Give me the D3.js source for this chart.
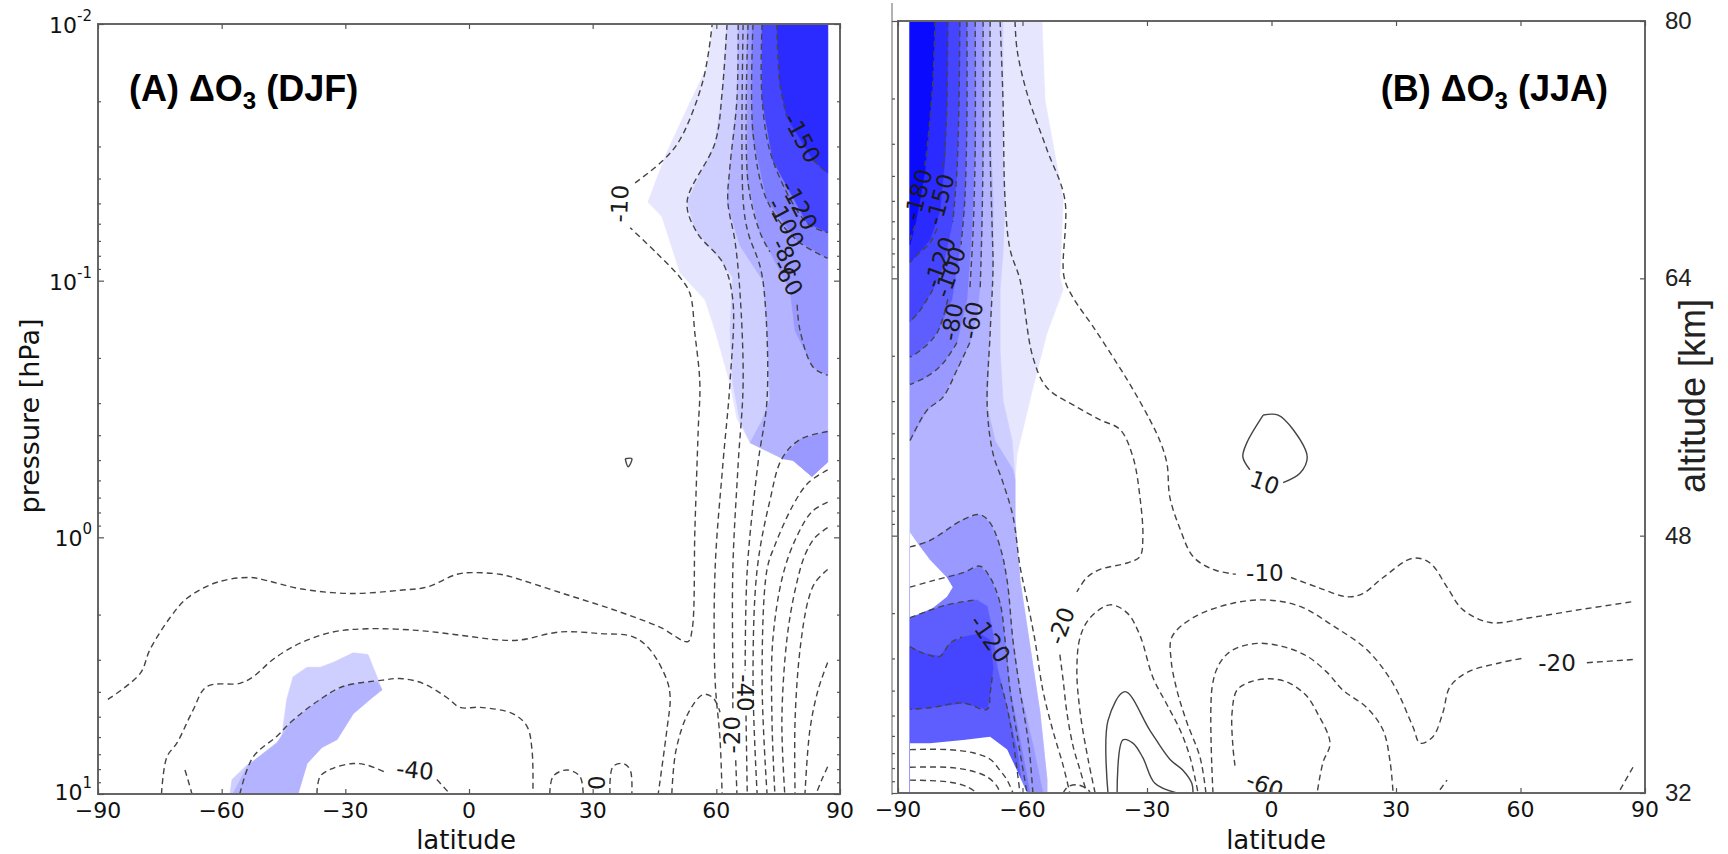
<!DOCTYPE html>
<html>
<head>
<meta charset="utf-8">
<script src="https://cdn.jsdelivr.net/npm/d3@7/dist/d3.min.js"></script>
<style>
  body { margin: 0; background: #fff; }
  svg { display: block; }
</style>
</head>
<body>
<svg id="fig" width="1728" height="854"></svg>
<script>
(function() {
	'use strict';

	// axes
	const latTicks = [-90, -60, -30, 0, 30, 60, 90];
	const pressTicks = [0.01, 0.1, 1, 10];
	const pressExp = ['-2', '-1', '0', '1'];
	const altTicks = [80, 64, 48, 32];

	// shading, light to dark
	const blues = ['#e6e6ff', '#cfcfff', '#b3b3ff', '#9999ff', '#7d7dff', '#5e5eff', '#4545ff', '#2b2bff', '#0a0aff'];

	// ---- (A) DJF : [latitude, altitude km] ----
	const fillsA = [
		[0, [[59.2,80],[57.7,77.3],[53.6,75.1],[48,72],[43.4,68.9],[46.8,68],[51.2,64.5],[57.3,62.8],[59.7,60.9],[63.3,57.6],[65,55.4],[68.2,53.9],[75.4,53],[78.6,52.8],[83.2,51.8],[87,52.7],[87,80]]],
		[1, [[62.6,80],[61.4,75.7],[59.7,72.6],[52.9,68.9],[54.8,67.2],[61.6,65.1],[64,64.2],[63.3,60.9],[64,57.6],[65.7,55.3],[68.2,53.9],[75.4,53],[78.6,52.8],[83.2,51.8],[87,52.7],[87,80]]],
		[2, [[65.3,80],[65,75.3],[63.3,71.1],[62.6,68.9],[65.7,66.2],[71.3,64],[72.3,60.9],[73,56.6],[71.1,55.3],[68.2,53.9],[75.4,53],[78.6,52.8],[83.2,51.8],[87,52.7],[87,80]]],
		[3, [[67.5,80],[67.5,70.3],[70.6,67],[77.9,63.4],[79.1,60.9],[83.5,58.6],[87,58.1],[87,80]]],
		[3, [[75.9,52.9],[80.3,54.1],[87,54.6],[87,52.7],[83.2,51.8],[78.6,52.8]]],
		[4, [[68.7,80],[68.7,73.2],[72.3,69],[79.6,66.5],[87,65.4],[87,80]]],
		[6, [[71.1,80],[71.1,75.3],[73.7,71.5],[82,67.6],[87,67],[87,80]]],
		[7, [[74.7,80],[75.4,76.3],[77.1,74.2],[83.5,71.5],[87,70.7],[87,80]]],
		[1, [[-58,32],[-57.5,32.9],[-53.9,33.8],[-49,34.3],[-45.8,34.7],[-45.1,36.2],[-44.2,37.9],[-42.7,39.3],[-39.3,39.9],[-36.1,39.9],[-33,40.2],[-28.1,40.8],[-24.5,40.7],[-22.3,39.3],[-21.1,38.5],[-24,37.9],[-28.1,37],[-32,35.4],[-35.7,34.9],[-39.3,33.9],[-41.5,32]]],
		[2, [[-57.3,32],[-53.6,33.8],[-46.6,35.2],[-43.4,36.4],[-36.1,37.9],[-29.6,38.8],[-22.3,39],[-21.1,38.5],[-24,37.9],[-28.1,37],[-32,35.4],[-35.7,34.9],[-39.3,33.9],[-41.5,32]]]
	];

	const dashedA = [
		[[-87.6,37.9],[-79.8,39.5],[-77.4,41],[-72.5,43],[-68.4,44.2],[-61.1,45.2],[-53.1,45.5],[-49,45.3],[-41,44.8],[-28.9,44.5],[-16.7,44.7],[-10.2,44.9],[-2.9,45.7],[1,45.8],[7.5,45.7],[10.7,45.5],[22.8,44.5],[34.9,43.5],[46.3,42.4],[53.1,41.5],[54.1,42.2],[54.8,48.5],[55.6,54.7],[56,57.6],[54.8,60.7],[53.6,63.2],[51.2,64.2],[45.6,65.7],[39.1,67.3],null,[40.3,70.1],[47.1,71.5],[51.2,72.8],[56.8,76.5],[59,80]],
		[[-74.6,32],[-73.3,34.3],[-70.8,35.2],[-67,37.2],[-63.6,38.7],[-55.6,38.9],[-52.4,39.3],[-47.5,40.4],[-41,41.4],[-33,42.1],[-24.7,42.3],[-12.6,42.2],[-2.2,41.9],[7.5,41.6],[12.4,41.6],[22.1,42.1],[31.8,42],[39.8,41.8],[43.9,41],[48,39.1],[48.8,38],[48,36],[45.9,32]],
		[[-55.6,32],[-52.4,34.3],[-46.6,35.6],[-42.7,36.6],[-36.1,37.9],[-30.6,38.7],[-20.9,39.1],[-16.7,39.2],[-11.2,38.9],[-5.3,38],[-2.2,37.4],[2.7,37.4],[10.7,37],[14.1,36.2],[15.3,34.7],[15.5,32]],
		[[-36.9,32],[-36.1,33.1],[-33,33.6],[-28.1,33.9],[-24.7,33.8],[-19.9,33.3],null,[-7.8,32.9],[-4.6,32]],
		[[-68.9,33.5],[-68.2,32.9],[-67.2,32]],
		[[19.6,32],[20.4,33.1],[23.8,33.5],[26.9,33.1],[27.7,32]],
		[[34.2,32],[34.9,33.7],[37.4,33.9],[39.1,33.5],[39.5,32]],
		[[49.2,32],[50.2,34.7],[53.1,37],[56.8,38.2],[59.2,38],[60.9,37.1]],
		[[62.6,80],[61.4,75.7],[59.7,72.6],[52.9,68.9],[55.3,67],[61.6,65.1],[64,62.8],[63.3,57.6],[61.6,52.6],[59.7,46],[59.7,39.1],[60.9,35.4],[61.4,32]],
		[[65.3,80],[65,75.3],[63.3,71.1],[62.8,68.9],[64.5,66.5],[65.7,63.4],[66.5,57.6],[65.3,52.6],[64,46],[64,39.1],[64,37.2],null,[64.7,34.1],[65,32]],
		[[66.5,80],[66.5,69],[67.7,67],[70.6,64.9],[71.8,62.8],[72.3,56.6],[70.1,52.6],[67.5,46],[67,39.7],null,[67.2,36.9],[67.5,32]],
		[[67.7,80],[67.7,70.1],[70.6,67],[73,65.8],null,[79.6,62.5],[80.3,60.9],[83.5,58.6],[87,58.1]],
		[[68.9,80],[68.9,73.2],[72.3,69],[79.6,66.5],[87,65.4]],
		[[71.1,80],[71.1,75.3],[73.7,71.5],[82,67.6],[87,67]],
		[[74.7,80],[75.4,76.3],[77.1,74.2],null,[83.5,71.5],[87,70.7]],
		[[87,54.6],[80.3,54.1],[75.9,52.9],[73,50.3],[69.9,46],[68.9,39.1],[69.9,32]],
		[[87,52.2],[82.3,51.4],[78.6,50],[74.2,47.5],[72.3,46],[71.1,39.1],[72.3,32]],
		[[87,50.2],[83.2,49.6],[79.6,48.1],[76.2,45.7],[73.7,41.6],[73.5,36.6],[74.2,32]],
		[[87,48.6],[84,48],[81.5,46.9],[79.1,44.7],[77.1,41.6],[75.9,36.6],[76.6,32]],
		[[87,46],[84,45.2],[82.3,44.1],[80.3,41],[79.1,36.6],[79.1,32]],
		[[87,40.2],[84.7,38.5],[82.7,36],[81.5,32]],
		[[87,33.7],[85.6,32.9],[84.2,32]]
	];

	const solidA = [
		[[37.9,52.9],[39.5,52.9],[38.6,52.4],[37.9,52.9]]
	];

	const labelsA = [
		['-10', 36.5, 68.8, -88],
		['-150', 80.8, 72.9, 62],
		['-120', 80.1, 68.7, 62],
		['-100', 76.9, 67.6, 62],
		['-80', 77.1, 65.5, 62],
		['-60', 77.4, 64.2, 62],
		['-40', 67.0, 38.3, 90],
		['-20', 63.7, 35.7, -90],
		['-40', -13.1, 33.5, 6],
		['0', 31.1, 32.7, -90]
	];

	// ---- (B) JJA ----
	const fillsB = [
		[0, [[-55.3,80],[-54.6,75.1],[-50.2,68.9],[-51,64.1],[-50.2,63.3],[-54.1,60.6],[-57.5,57.2],[-61.3,53.1],[-61.8,51.5],[-61.8,49],[-60.6,45.2],[-58.2,41.1],[-55.8,37],[-54.1,32.8],[-54.1,32],[-87.1,32],[-87.1,80]]],
		[1, [[-64.7,80],[-64.7,72],[-64.2,68.9],[-64.7,65.6],[-65.4,63.3],[-65.4,59.5],[-64.7,56.4],[-62.5,53.9],[-61.8,51.5],[-61.8,49],[-60.6,45.2],[-58.2,41.1],[-55.8,37],[-54.1,32.8],[-54.1,32],[-87.1,32],[-87.1,80]]],
		[2, [[-67.8,80],[-67.8,73.8],[-67.1,68.9],[-67.1,64.7],[-67.8,60.6],[-68.5,56],[-66.6,53.9],[-62.3,52.1],[-61.8,51.5],[-61.8,49],[-60.6,45.2],[-58.2,41.1],[-55.8,37],[-54.1,32.8],[-54.1,32],[-87.1,32],[-87.1,80]]],
		[3, [[-69.5,80],[-69.5,72],[-69.8,67],[-70.2,63.7],[-71,61.6],[-72.7,60],[-75.8,58.3],[-79.2,56.6],[-83,55.8],[-87.1,53.9],[-87.1,80]]],
		[3, [[-87.1,47.3],[-82.3,47.7],[-74.3,49],[-70.2,49.3],[-67.8,48.8],[-65.4,47.3],[-63.7,45.2],[-62.3,41.5],[-60.6,38.4],[-57.5,35],[-55.1,32],[-87.1,32]]],
		[4, [[-71.4,80],[-71.4,72],[-72.2,67],[-73.4,62.7],[-75.8,60],[-79.2,58.7],[-83,57.9],[-87.1,57.4],[-87.1,80]]],
		[4, [[-87.1,44.8],[-81.6,45.2],[-74.3,45.7],[-70.2,46.1],[-67.8,45.4],[-65.4,43.8],[-64.2,41.5],[-63,38.4],[-60.6,35.3],[-58.2,32],[-87.1,32]]],
		[5, [[-73.4,80],[-73.4,73.8],[-73.9,68.9],[-75.1,65.8],[-77,62.7],[-80.6,60.6],[-84.7,59.5],[-87.1,59.1],[-87.1,80]]],
		[5, [[-87.1,42.9],[-78.2,43.7],[-71,44],[-68.5,43.6],[-67.1,41.9],[-66.1,39.8],[-63.7,37.3],[-61.3,34.7],[-59.9,32],[-87.1,32]]],
		[6, [[-75.1,80],[-75.3,75.1],[-75.8,70.7],[-76.8,67.6],[-79.2,64.7],[-81.6,63.3],[-84.7,62],[-87.1,61.3],[-87.1,80]]],
		[6, [[-87.1,41.1],[-84,40.7],[-79.9,40.5],[-77.5,41.3],[-74.3,41.7],[-70.2,41.9],[-67.8,41.5],[-67.1,39.8],[-67.8,38.2],[-68.5,37.2],[-74.3,37.6],[-82.3,37.3],[-87.1,37.2]]],
		[7, [[-78,80],[-78.2,75.1],[-78.7,71.4],[-79.9,68.2],[-82.3,66.4],[-85.2,65.5],[-87.1,65],[-87.1,80]]],
		[8, [[-81.1,80],[-81.6,76.3],[-82.8,72.6],[-83.5,70.7],[-84.7,68.9],[-85.9,67.3],[-87.1,66.1],[-87.1,80]]]
	];

	const blanksB = [
		[[-87.1,35.1],[-82.3,35.1],[-74.3,35.3],[-67.8,35.5],[-63.7,34.7],[-61.3,33.4],[-58.9,32],[-87.1,32]],
		[[-87.1,48.2],[-85.2,47.5],[-82.3,46.5],[-78.2,45.4],[-76.8,44.8],[-78.2,44.2],[-81.6,43.5],[-87.1,42.9]]
	];

	const dashedB = [
		[[-81.1,80],[-81.6,76.3],[-82.8,72.6],[-83.5,71],null,[-85.9,67.3],[-87.1,66.4]],
		[[-78,80],[-78.2,75.1],[-78.7,72],[-79.2,70.7],null,[-80.6,67.1],[-82.3,66.2],[-85.2,65.5],[-87.1,65]],
		[[-75.1,80],[-75.3,75.1],[-75.8,70.7],[-76.8,67.5],null,[-81.6,63.3],[-84.7,62],[-87.1,61.3]],
		[[-73.4,80],[-73.4,73.8],[-73.9,68.9],[-74.8,66.1],null,[-78,62.7],[-80.6,60.6],[-84.7,59.5],[-87.1,59.1]],
		[[-71.4,80],[-71.4,72],[-71.9,67],[-72.7,63.3],null,[-75.8,60],[-79.2,58.7],[-83,57.9],[-87.1,57.4]],
		[[-69.5,80],[-69.5,72],[-69.8,67],[-70.2,63.3],null,[-72.7,60],[-75.8,58.3],[-79.2,56.6],[-83,55.8],[-87.1,53.9]],
		[[-67.8,80],[-67.8,72],[-67.3,67],[-67.1,64.7],[-67.8,60.6],[-68.5,56],[-67.1,53.1],[-64.7,51.3],[-62.3,49.2],[-60.6,46.1],[-58.9,44],[-57,41.5],[-55.1,38.4],[-52.7,35.9],[-50.2,33.7],[-48.6,32]],
		[[-65.4,80],[-64.7,75.1],[-64.2,68.9],[-63,65.8],[-60.6,63.9],[-57.5,59.1],[-54.1,57.2],[-46.9,56],[-41.3,55.2],[-36.5,54.6],[-33.4,52.9],[-31.7,50.4],[-31,47.9],[-31.7,46.7],[-34.8,46.3],[-41.3,45.9],[-44.5,45.4],[-46.9,44.5],null,[-51,40.6],[-50.2,39],[-49.3,37],[-47.8,34.9],[-46.1,33.4],[-44.5,32]],
		[[-61.8,80],[-61.3,78.2],[-58.9,75.5],[-54.1,72],[-49.8,68.9],[-50,64.1],[-47.8,62.8],[-43,61],[-37.2,58.7],[-33.4,57.1],[-29.3,55.2],[-26.9,53.9],[-25.2,52.5],[-24.5,50.4],[-22,48.4],[-18.9,46.7],[-14.1,45.9],[-8.6,45.6],null,[4.7,45.4],[11,44.8],[18.2,44.2],[22,44.4],[26.9,45.4],[34.1,46.6],[38.2,46.3],[42.3,44.8],[46.1,43.4],[52.7,42.6],[62.3,42.9],[74.3,43.4],[87.1,43.9]],
		[[-15.8,32],[-17.2,34.2],[-20.4,36.4],[-22.8,38.4],[-24.2,40.3],[-24,41.7],[-18.9,42.9],[-9.3,43.8],[-1.1,44],[6.9,43.6],[14.8,42.4],[23,40.9],[29.3,38.8],[34.1,36.1],[35.8,35.1],[38.9,35.5],[41.3,37],[43,38.6],[47.1,39.5],[55.1,40.1],[61,40.4],null,[76,40.1],[87.1,40.3]],
		[[-42.5,32],[-44.2,34.1],[-46.1,37],[-46.9,39.6],[-46.1,41.7],[-43.7,42.9],[-38.9,43.7],[-34.8,43.2],[-31.7,41.8],[-28.6,39.2],[-25.2,37.5],[-22,35.9],[-19.6,34.2],[-17.7,32]],
		[[-14.1,32],[-14.3,38.6],[-12.4,40.1],[-9.3,40.9],[-3.5,41.3],[2.8,41.1],[8.6,40.5],[13.4,39.5],[17.2,38.4],[23,37.3],[26.9,35.9],[28.6,33.9],[29.3,32]],
		[[-8.8,33.7],[-9.3,34.9],[-9.5,37],[-8.3,38.4],[-5.2,38.9],[-0.4,39.1],[3.7,38.9],[6.9,38.4],[8.6,38],[11,37],[14.1,35.1],[12.4,33.9],[11,32]],
		[[-87.1,47.3],[-82.3,47.7],[-74.3,49],[-70.2,49.3],[-67.8,48.8],[-65.4,47.3],[-63.7,45.2],[-62.3,41.5],[-60.6,38.4],[-58.5,35],[-57.5,32]],
		[[-87.1,44.8],[-81.6,45.2],[-74.3,45.7],[-70.2,46.1],[-67.8,45.4],[-65.4,43.8],[-64.2,41.5],[-63,38.4],[-61.1,35.3],[-58.9,32]],
		[[-87.1,42.9],[-78.2,43.7],[-71.5,44],null,[-65.2,38.8],[-63.7,37.3],[-62.3,35.3],[-60.6,32]],
		[[-87.1,41.1],[-84,40.7],[-79.9,40.5],[-77.5,41.3],[-74.6,41.7],null,[-67.3,39.2],[-67.8,38.2],[-68.5,37.2],[-74.3,37.6],[-82.3,37.3],[-87.1,37.2]],
		[[-87.1,34.7],[-78.2,34.7],[-71.9,34.5],[-67.8,34.1],[-65.4,33.4],[-63.7,32.8],[-62.3,32]],
		[[-87.1,33.6],[-78.2,33.6],[-72.7,33.4],[-68.5,33],[-66.1,32.4],[-65.4,32]],
		[[-87.1,32.8],[-78.2,32.7],[-73.4,32.4],[-71,32]],
		[[-50.2,32],[-49,32.4],[-46.6,32.5],[-44.2,32.2],[-43.7,32]],
		[[40.6,32.2],[42.3,32.8]],
		[[84,32.2],[87.1,33.6]]
	];

	const solidB = [
		[[-39.4,32],[-39.4,36.5],[-35.3,38.3],[-29.3,35.9],[-24.5,34.1],[-21.3,33.4],[-19.2,32.6],[-18.9,32]],
		[[-37.2,32],[-35.8,35.3],[-33.4,35.1],[-31,34.2],[-28.1,32.6],[-22.8,32]],
		[[-2,55.5],[1.6,55.5],[5.2,54.6],[8.6,52.9],[6.9,51.9],[2.8,51.3],null,[-5.2,52.1],[-6.9,52.9],[-5.9,53.8],[-2,55.5]]
	];

	const labelsB = [
		['-180', -85.2, 69.2, -75],
		['-150', -79.9, 68.9, -75],
		['-120', -79.9, 65.0, -70],
		['-100', -77.5, 64.4, -70],
		['-80', -77.0, 61.3, -80],
		['-60', -72.2, 61.4, -80],
		['-120', -67.8, 41.6, 55],
		['-20', -50.7, 42.4, -70],
		['-10', -1.6, 45.7, 0],
		['10', -1.6, 51.3, 20],
		['-60', -1.6, 32.5, 20],
		['-20', 68.8, 40.1, 0]
	];

	const svg = d3.select('#fig');
	const minorTicks = [];
	for (let e = -2; e < 1; e++) {
		for (let k = 2; k < 10; k++) { minorTicks.push(k * Math.pow(10, e)); }
	}
	const fmtLat = v => (v < 0 ? '\u2212' + Math.abs(v) : String(v));

	function tickAxis(g, axis, tx, ty) {
		const a = g.append('g').attr('transform', 'translate(' + tx + ',' + ty + ')').call(axis);
		a.select('.domain').remove();
		a.selectAll('line').attr('stroke', '#555').attr('stroke-width', 1.2);
		a.selectAll('text').remove();
		return a;
	}

	function drawPanel(p) {
		const x = d3.scaleLinear().domain([-90, 90]).range([p.left, p.right]);
		const alt = d3.scaleLinear().domain([32, 80]).range([p.bottom, p.top]);
		const pres = d3.scaleLog().domain([10, 0.01]).range([p.bottom, p.top]);
		const g = svg.append('g');

		g.append('clipPath').attr('id', 'clip' + p.id)
			.append('rect')
			.attr('x', p.left).attr('y', p.top)
			.attr('width', p.right - p.left).attr('height', p.bottom - p.top);
		const plot = g.append('g').attr('clip-path', 'url(#clip' + p.id + ')');

		const area = d3.line().x(d => x(d[0])).y(d => alt(d[1])).curve(d3.curveLinearClosed);
		const contour = d3.line()
			.defined(d => d !== null)
			.x(d => x(d[0])).y(d => alt(d[1]))
			.curve(d3.curveCatmullRom.alpha(0.5));

		plot.selectAll('.fill').data(p.fills).enter().append('path')
			.attr('d', d => area(d[1]))
			.attr('fill', d => blues[d[0]])
			.attr('stroke', d => blues[d[0]])
			.attr('stroke-width', 0.6);

		plot.selectAll('.blank').data(p.blanks || []).enter().append('path')
			.attr('d', d => area(d))
			.attr('fill', '#fff');

		plot.selectAll('.dash').data(p.dashed).enter().append('path')
			.attr('d', d => contour(d))
			.attr('fill', 'none')
			.attr('stroke', '#444')
			.attr('stroke-width', 1.4)
			.attr('stroke-dasharray', '6,4');

		plot.selectAll('.solid').data(p.solid).enter().append('path')
			.attr('d', d => contour(d))
			.attr('fill', 'none')
			.attr('stroke', '#444')
			.attr('stroke-width', 1.4);

		plot.selectAll('.clab').data(p.labels).enter().append('text')
			.attr('transform', d => 'translate(' + x(d[1]) + ',' + alt(d[2]) + ') rotate(' + d[3] + ')')
			.attr('text-anchor', 'middle')
			.attr('dy', '0.36em')
			.attr('font-family', 'DejaVu Sans, sans-serif')
			.attr('font-size', 23)
			.attr('fill', '#1a1a1a')
			.text(d => d[0]);

		// frame
		g.append('rect')
			.attr('x', p.left).attr('y', p.top)
			.attr('width', p.right - p.left).attr('height', p.bottom - p.top)
			.attr('fill', 'none').attr('stroke', '#666').attr('stroke-width', 2);

		// ticks, pointing inward
		tickAxis(g, d3.axisBottom(x).tickValues(latTicks).tickSize(-5), 0, p.bottom);
		tickAxis(g, d3.axisTop(x).tickValues(latTicks).tickSize(-5), 0, p.top);

		g.selectAll('.xl').data(latTicks).enter().append('text')
			.attr('x', d => x(d)).attr('y', p.bottom + 24)
			.attr('text-anchor', 'middle')
			.attr('font-family', 'DejaVu Sans, sans-serif')
			.attr('font-size', 22)
			.attr('fill', '#111')
			.text(fmtLat);

		g.append('text')
			.attr('x', p.xlabelX).attr('y', 849)
			.attr('text-anchor', 'middle')
			.attr('font-family', 'DejaVu Sans, sans-serif')
			.attr('font-size', 26)
			.attr('fill', '#111')
			.text('latitude');

		const t = g.append('text')
			.attr('x', p.titleX).attr('y', 101)
			.attr('text-anchor', p.titleAnchor)
			.attr('font-family', 'Liberation Sans, Arial, sans-serif')
			.attr('font-weight', 'bold')
			.attr('font-size', 36)
			.attr('fill', '#000');
		t.append('tspan').text(p.title[0] + ' \u0394O');
		t.append('tspan').attr('font-size', 24).attr('dy', 8).text('3');
		t.append('tspan').attr('dy', -8).text(' ' + p.title[1]);

		return { x: x, alt: alt, pres: pres, g: g };
	}

	// ---------- panel A ----------
	const A = drawPanel({
		id: 'A', left: 98, right: 840, top: 24, bottom: 794,
		fills: fillsA, dashed: dashedA, solid: solidA, labels: labelsA,
		xlabelX: 466, titleX: 129, titleAnchor: 'start', title: ['(A)', '(DJF)']
	});
	tickAxis(A.g, d3.axisLeft(A.pres).tickValues(pressTicks).tickSize(-6), 98, 0);
	tickAxis(A.g, d3.axisLeft(A.pres).tickValues(minorTicks).tickSize(-3), 98, 0);
	tickAxis(A.g, d3.axisRight(A.pres).tickValues(pressTicks).tickSize(-6), 840, 0);
	tickAxis(A.g, d3.axisRight(A.pres).tickValues(minorTicks).tickSize(-3), 840, 0);

	const yl = A.g.selectAll('.yl').data(pressTicks).enter().append('text')
		.attr('x', 92).attr('y', (d, i) => A.pres(d) + (i === pressTicks.length - 1 ? 6 : 9))
		.attr('text-anchor', 'end')
		.attr('font-family', 'DejaVu Sans, sans-serif')
		.attr('font-size', 22)
		.attr('fill', '#111');
	yl.append('tspan').text('10');
	yl.append('tspan').attr('dy', -12).attr('font-size', 15).text((d, i) => pressExp[i]);

	A.g.append('text')
		.attr('transform', 'translate(39,416) rotate(-90)')
		.attr('text-anchor', 'middle')
		.attr('font-family', 'DejaVu Sans, sans-serif')
		.attr('font-size', 27)
		.attr('fill', '#111')
		.text('pressure [hPa]');

	// ---------- panel B ----------
	const B = drawPanel({
		id: 'B', left: 898, right: 1645, top: 21, bottom: 793,
		fills: fillsB, blanks: blanksB, dashed: dashedB, solid: solidB, labels: labelsB,
		xlabelX: 1276, titleX: 1608, titleAnchor: 'end', title: ['(B)', '(JJA)']
	});

	// stray left spine of the second panel
	B.g.append('line')
		.attr('x1', 892).attr('x2', 892).attr('y1', 3).attr('y2', 795)
		.attr('stroke', '#999').attr('stroke-width', 1.5);
	tickAxis(B.g, d3.axisLeft(B.pres).tickValues(pressTicks).tickSize(-5), 892, 0);
	tickAxis(B.g, d3.axisLeft(B.pres).tickValues(minorTicks).tickSize(-3), 892, 0);

	tickAxis(B.g, d3.axisRight(B.alt).tickValues(altTicks).tickSize(-5), 1645, 0);
	B.g.selectAll('.al').data(altTicks).enter().append('text')
		.attr('x', 1665).attr('y', d => B.alt(d) + 8)
		.attr('font-family', 'Liberation Sans, Arial, sans-serif')
		.attr('font-size', 24)
		.attr('fill', '#222')
		.text(d => d);

	B.g.append('text')
		.attr('transform', 'translate(1705,396) rotate(-90)')
		.attr('text-anchor', 'middle')
		.attr('font-family', 'Liberation Sans, Arial, sans-serif')
		.attr('font-size', 36)
		.attr('fill', '#222')
		.text('altitude [km]');
})();
</script>
</body>
</html>
